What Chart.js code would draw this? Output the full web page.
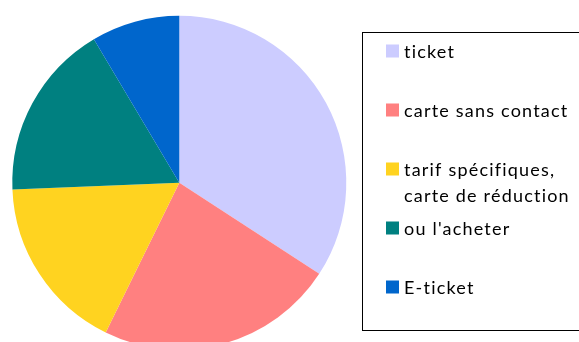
<!DOCTYPE html>
<html>
<head>
<meta charset="utf-8">
<script src="https://cdn.jsdelivr.net/npm/chart.js@4"></script>
<style>
  html, body { margin: 0; padding: 0; background: #fff; overflow: hidden; }
  #wrap { position: relative; width: 579px; height: 352px; }
</style>
</head>
<body>
<div id="wrap"><canvas id="pie"></canvas></div>
<script>
// chart data
const labels = ['ticket', 'carte sans contact', ['tarif spécifiques,', 'carte de réduction'], "ou l'acheter", 'E-ticket'];
const values = [40, 27, 20, 20, 10];
const colors = ['#ccccff', '#ff8080', '#ffd320', '#008080', '#0066cc'];

// legend drawn in a box on the right
const boxLegend = {
    id: 'boxLegend',
    afterDraw(chart) {
        const ctx = chart.ctx;
        ctx.save();
        ctx.strokeStyle = '#000';
        ctx.lineWidth = 1;
        ctx.strokeRect(362.5, 32.5, 230, 298);

        ctx.font = '18px Lato';
        ctx.letterSpacing = '1.2px';
        ctx.textBaseline = 'alphabetic';
        labels.forEach((lab, i) => {
            const top = 44.5 + i * 59;
            ctx.fillStyle = colors[i];
            ctx.fillRect(386, top, 13, 13);
            ctx.fillStyle = '#000';
            const lines = Array.isArray(lab) ? lab : [lab];
            lines.forEach((ln, j) => {
                ctx.fillText(ln, 404, top + 13 + j * 26.7);
            });
        });
        ctx.restore();
    }
};

const ctx = document.getElementById('pie').getContext('2d');
const chart = new Chart(ctx, {
    type: 'pie',
    data: {
        labels: labels,
        datasets: [{
            data: values,
            backgroundColor: colors,
            borderWidth: 0
        }]
    },
    options: {
        responsive: true,
        maintainAspectRatio: false,
        animation: false,
        layout: {
            padding: { left: 12.3, top: 15.7, right: 232.7, bottom: 2.3 }
        },
        plugins: {
            legend: { display: false },
            tooltip: { enabled: false }
        }
    },
    plugins: [boxLegend]
});
</script>
</body>
</html>
